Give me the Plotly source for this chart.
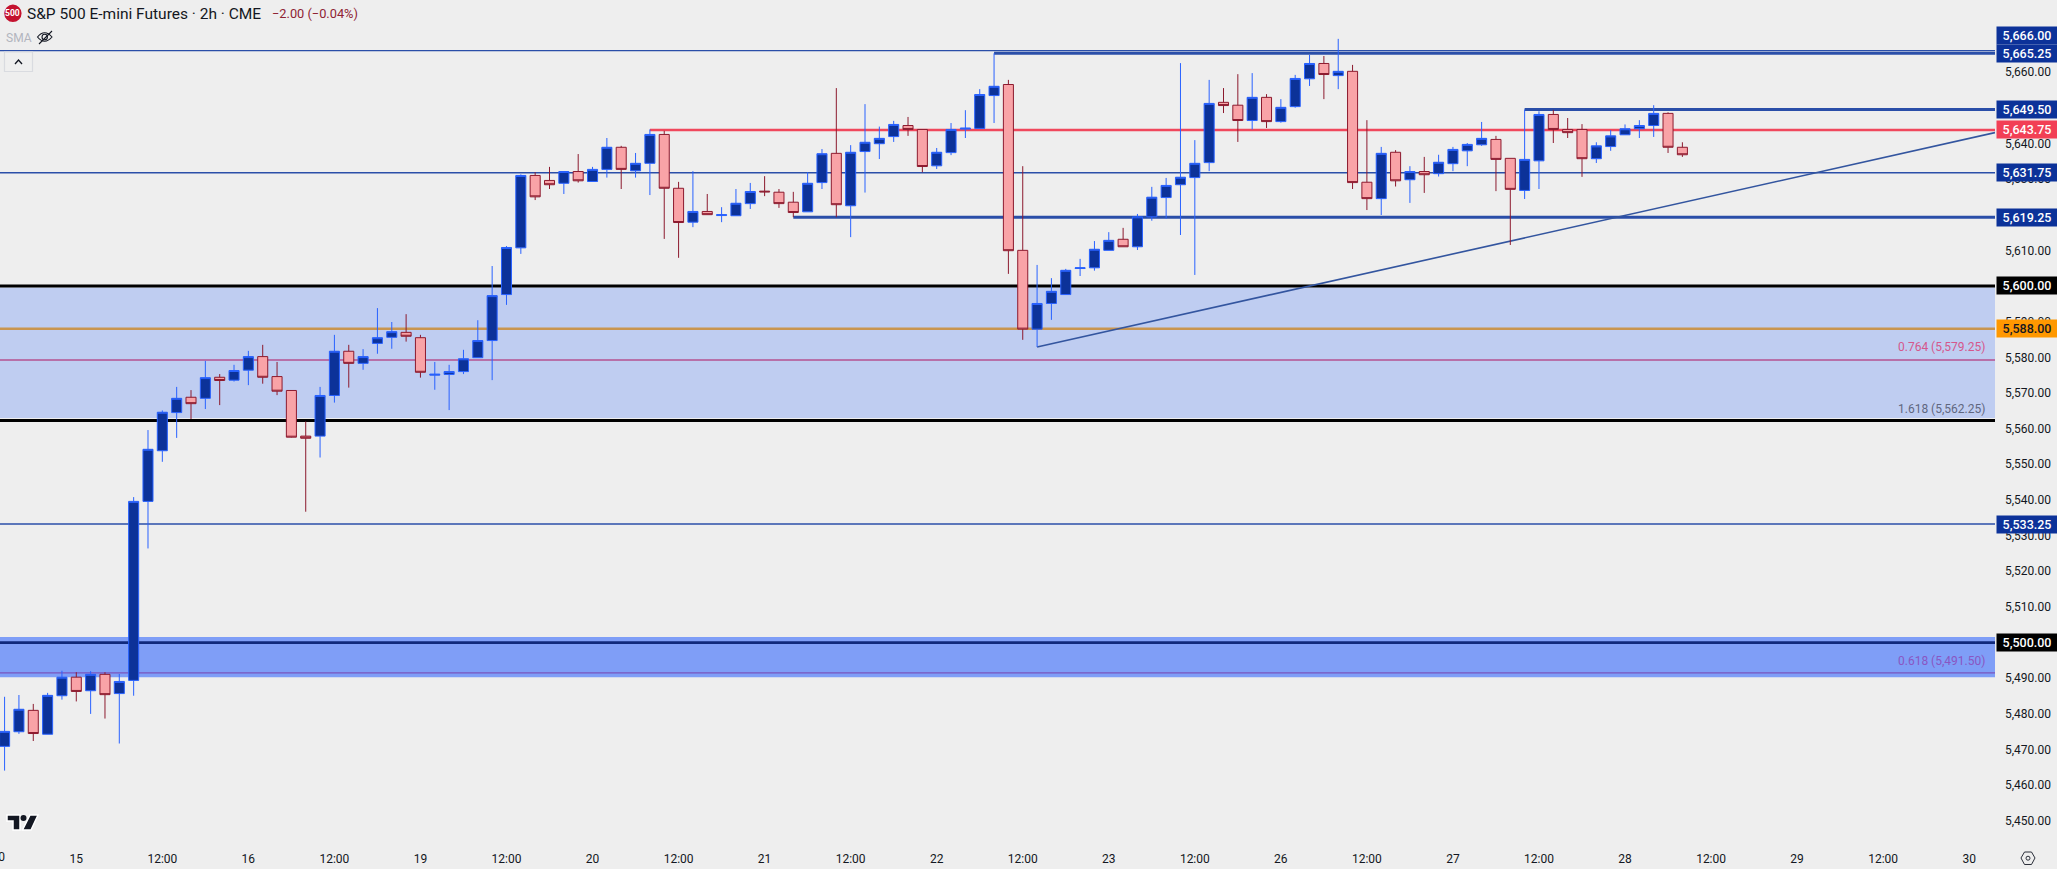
import plotly.graph_objects as go

W, H = 2057, 869
PLOT_W, PLOT_H = 1995, 843

bar_index = list(range(-5, 113))
opens = [5470.9,5475,5481,5474.3,5485.1,5490.3,5486.5,5491.1,5485.7,5489.4,5539.6,5553.8,5564.5,5568.8,5568.5,5574.4,5573.6,5576.4,5580.2,5574.6,
5570.7,5557.9,5557.9,5569.3,5581.7,5578.3,5583.9,5585.6,5587,5585.5,5575,5575.2,5576,5579.9,5584.7,5597.6,5610.7,5631,5629.6,5628.8,
5632.1,5629.3,5632.7,5638.9,5632.3,5634.4,5642.5,5627.4,5617.9,5620.9,5619.75,5619.7,5623.1,5626.6,5626.3,5623.5,5620.8,5629,5637.2,5622.5,
5637.7,5639.9,5641.9,5645,5643.9,5633.7,5637.4,5644,5644.2,5653.4,5656.5,5610,5587.9,5595.1,5597.6,5604.9,5605.1,5610,5613.1,5611,
5619.4,5624.8,5628.4,5630.4,5634.6,5651.5,5650.7,5646.4,5652.9,5646.1,5650.3,5658.1,5662.4,5659,5660.2,5629.1,5624.5,5637.5,5629.8,5632.1,
5631.5,5634.3,5637.9,5639.6,5641.1,5635.8,5626.8,5635.1,5648.1,5643.9,5643.9,5635.7,5639.1,5642.4,5644.1,5645,5648.4,5638.9]
highs = [5484.8,5485.3,5482.8,5485.9,5492.1,5491.7,5492,5491.7,5491.2,5540.8,5559.6,5565.1,5571.7,5570.8,5579,5575.3,5577.9,5581.8,5583.5,5578.7,
5570.7,5562,5571.7,5586.3,5583.5,5582.3,5593.8,5589.9,5592.1,5586.3,5578.7,5577.9,5582.1,5590.4,5605.6,5611.2,5631.3,5631.9,5633.4,5632.1,
5637,5633.4,5641.5,5639.3,5637.3,5643.9,5643.5,5629.2,5632.2,5625.8,5622.1,5627.2,5628.9,5630.8,5627.2,5626.4,5631.9,5638.4,5655.5,5639.5,
5651,5644.7,5646.3,5647.4,5643.9,5638.7,5645.7,5649.3,5655.2,5665.25,5657.8,5633.6,5605.9,5602.2,5604.8,5607.6,5612.6,5615.1,5616.3,5620.2,
5627.8,5630.3,5662.5,5640.9,5657.8,5655.5,5659.4,5659.7,5653.8,5652.4,5659.2,5664.8,5664.5,5669.3,5662,5646.5,5639,5638.1,5633.6,5636.2,
5636.8,5639,5640.1,5646,5642.1,5635.8,5649.5,5649,5649.4,5647.1,5645.4,5640.3,5643.7,5645.3,5646.5,5650.7,5648.7,5640.3]
lows = [5464.1,5474.4,5472.4,5474.3,5484,5483.5,5480,5478.7,5471.7,5485.1,5526.4,5550.7,5557.4,5562.7,5565.5,5566.6,5573.2,5572.2,5572.6,5569.4,
5557.5,5536.7,5551.9,5567.3,5571.5,5576.5,5581,5582.4,5584.4,5574.3,5570.9,5565.2,5575.3,5579.9,5573.6,5594.7,5609,5624.1,5627.2,5625.8,
5629,5629.3,5630.4,5627.2,5630.4,5625.5,5613.2,5607.9,5616.5,5620,5617.9,5619.7,5621.6,5625.2,5621.9,5619.3,5620.8,5627.2,5619.3,5613.7,
5626.2,5635.6,5640.4,5642.1,5631.9,5632.8,5636.7,5641.5,5644.2,5645.7,5603.4,5584.9,5582.9,5590.5,5597.6,5602.8,5604.3,5610,5611,5610.1,
5618.3,5618.9,5614.3,5603.1,5632.2,5648.5,5640.4,5643.9,5644.3,5645.8,5650,5656.1,5652.4,5655.2,5627.2,5621.3,5619.9,5627.9,5623.3,5626.1,
5630.7,5632.2,5633.6,5639.3,5626.6,5611.5,5624.4,5627.2,5640.1,5641.5,5630.6,5634.5,5637.9,5642.4,5641.5,5641.8,5637.3,5636.2]
closes = [5475.1,5481.3,5474.5,5485.2,5490.3,5486.3,5491.1,5485.4,5489.1,5539.6,5554.2,5564.6,5568.5,5567,5574.3,5573.5,5576.3,5580.2,5574.4,5570.5,
5557.6,5557.3,5569.3,5581.7,5578.3,5580.2,5585.5,5587.2,5585.9,5575.8,5575.25,5576,5579.6,5584.7,5597.3,5610.8,5631,5625,5628.4,5632.1,
5629.5,5632.7,5638.9,5632.7,5634.4,5642.5,5627.4,5617.8,5620.9,5620,5620,5623.2,5626.5,5626.4,5623.1,5620.6,5628.8,5637.1,5622.8,5637.5,
5640.3,5641.4,5645.3,5643.9,5633.5,5637.5,5643.9,5644.25,5653.7,5656,5609.9,5587.9,5595.1,5598.5,5604.4,5605.1,5610.3,5612.8,5611,5619.4,
5624.9,5628.2,5630.5,5634.4,5651.2,5650.6,5646.4,5652.9,5646.1,5650.1,5658.2,5662.4,5659.3,5660.2,5629,5624.5,5637.2,5629.5,5632.1,5631.2,
5634.7,5638.3,5639.7,5641.4,5635.5,5627.1,5635.5,5648.1,5643.9,5643,5635.7,5639.3,5642.1,5644.1,5645,5648.4,5638.9,5636.8]

day_ticks = [0, 6, 12, 18, 24, 30, 36, 42, 48, 54, 60, 66, 72, 78, 84, 90, 96, 102, 108, 114, 120, 126, 132]
day_labels = ["15","12:00","16","12:00","19","12:00","20","12:00","21","12:00","22","12:00","23","12:00","26","12:00","27","12:00","28","12:00","29","12:00","30"]

level_values = [5666.00, 5665.25, 5649.50, 5643.75, 5631.75, 5619.25, 5600.00, 5588.00, 5579.25, 5562.25, 5533.25, 5500.00, 5491.50]
level_starts = [None, 64, 101, 40, None, 50, None, None, None, None, None, None, None]
level_colors = ["#2a4ea8","#2a4ea8","#2a4ea8","#f0475c","#2a4ea8","#2a4ea8","#000000","#c9954f","#b5508f","#000000","#2a4ea8","#10297c","#7a55bd"]
level_widths = [1.3, 3, 3, 2.6, 1.3, 3, 3, 2.6, 1.3, 3, 1.3, 2.6, 1.3]

label_values = [5666.00, 5665.25, 5649.50, 5643.75, 5631.75, 5619.25, 5600.00, 5588.00, 5533.25, 5500.00]
label_shift = [15, 0, 0, 0, 0, 0, 0, 0, 0, 0]
label_bg = ["#0c3299","#0c3299","#0c3299","#f23f55","#0c3299","#0c3299","#000000","#ff9800","#0c3299","#000000"]
label_fg = ["#ffffff","#ffffff","#ffffff","#ffffff","#ffffff","#ffffff","#ffffff","#131722","#ffffff","#ffffff"]

band_lo = [5563.0, 5490.25]
band_hi = [5599.6, 5501.6]
band_colors = ["#bfcdf1", "#7f9ef7"]

trend_x = [67, 133.8]
trend_y = [5582.9, 5643.0]

fib_texts = ["0.764 (5,579.25)", "1.618 (5,562.25)", "0.618 (5,491.50)"]
fib_colors = ["#d5578c", "#5f6780", "#8a56c2"]

x_range = [-5.32, 133.8]
y_range = [5443.8, 5680.2]
FONT = "Roboto, sans-serif"


def px(x):
    return x / PLOT_W


def py(y):
    return 1 - y / PLOT_H


fig = go.Figure(go.Candlestick(
    x=bar_index, open=opens, high=highs, low=lows, close=closes,
    increasing=dict(line=dict(color="#2962ff", width=1), fillcolor="#0c3299"),
    decreasing=dict(line=dict(color="#8c1a2e", width=1), fillcolor="#f9a3a7"),
    whiskerwidth=0, hoverinfo="skip", showlegend=False,
))

shapes = []
for lo, hi, c in zip(band_lo, band_hi, band_colors):
    shapes.append(dict(type="rect", xref="x", yref="y", x0=x_range[0], x1=x_range[1], y0=lo, y1=hi,
                       fillcolor=c, line=dict(width=0), layer="below"))
for v, s, c, w in zip(level_values, level_starts, level_colors, level_widths):
    shapes.append(dict(type="line", xref="x", yref="y", x0=x_range[0] if s is None else s, x1=x_range[1],
                       y0=v, y1=v, line=dict(color=c, width=w), layer="below"))
shapes.append(dict(type="line", xref="x", yref="y", x0=trend_x[0], x1=trend_x[1], y0=trend_y[0], y1=trend_y[1],
                   line=dict(color="#33559f", width=1.6), layer="below"))


def ppath(points, close=False):
    s = "M " + " L ".join(f"{px(a):.5f},{py(b):.5f}" for a, b in points)
    return s + (" Z" if close else "")


shapes.append(dict(type="circle", xref="paper", yref="paper", x0=px(4.2), x1=px(21.6), y0=py(22), y1=py(4.6),
                   fillcolor="#c4122f", line=dict(width=0), layer="above"))
shapes.append(dict(type="path", xref="paper", yref="paper", layer="above", line=dict(color="#131722", width=1.1),
                   path=f"M {px(37.5):.5f},{py(37):.5f} Q {px(44.5):.5f},{py(28.5):.5f} {px(52):.5f},{py(37):.5f} Q {px(44.5):.5f},{py(45.5):.5f} {px(37.5):.5f},{py(37):.5f} Z"))
shapes.append(dict(type="circle", xref="paper", yref="paper", x0=px(42), x1=px(47.4), y0=py(39.8), y1=py(34.2),
                   line=dict(color="#131722", width=1.1), layer="above"))
shapes.append(dict(type="line", xref="paper", yref="paper", x0=px(39), x1=px(52), y0=py(44), y1=py(31),
                   line=dict(color="#131722", width=1.1), layer="above"))
shapes.append(dict(type="rect", xref="paper", yref="paper", x0=px(4.5), x1=px(32.5), y0=py(71.5), y1=py(52),
                   line=dict(color="#d9dbe0", width=1.2), fillcolor="#efefef", layer="above"))
shapes.append(dict(type="path", xref="paper", yref="paper", layer="above", line=dict(color="#131722", width=1.3),
                   path=ppath([(15, 64), (18.5, 60), (22, 64)])))
shapes.append(dict(type="path", xref="paper", yref="paper", layer="above", fillcolor="#131722",
                   line=dict(color="#ffffff", width=1.5),
                   path=ppath([(7, 815), (20, 815), (20, 830), (13, 830), (13, 821), (7, 821)], True)))
shapes.append(dict(type="path", xref="paper", yref="paper", layer="above", fillcolor="#131722",
                   line=dict(color="#ffffff", width=1.5),
                   path=ppath([(30, 815), (38, 815), (31, 830), (22.5, 830)], True)))
shapes.append(dict(type="circle", xref="paper", yref="paper", x0=px(20.5), x1=px(26.5), y0=py(821), y1=py(815),
                   fillcolor="#131722", line=dict(width=0), layer="above"))
shapes.append(dict(type="path", xref="paper", yref="paper", layer="above", line=dict(color="#2a2e39", width=1),
                   path=ppath([(2021, 858), (2024.5, 852), (2031.5, 852), (2035, 858), (2031.5, 864.5), (2024.5, 864.5)], True)))
shapes.append(dict(type="circle", xref="paper", yref="paper", x0=px(2026), x1=px(2030), y0=py(860.2), y1=py(856.2),
                   line=dict(color="#2a2e39", width=1), layer="above"))

ann = []
for v, sh, bg, fg in zip(label_values, label_shift, label_bg, label_fg):
    ann.append(dict(xref="paper", yref="y", x=1, y=v, xanchor="left", yanchor="middle", xshift=1, yshift=sh,
                    text=f"{v:,.2f}", showarrow=False, width=60, height=17, bgcolor=bg, borderpad=0,
                    align="center", font=dict(family=FONT, size=12.5, color=fg, weight=500)))
fib_y_px = [346.7, 409, 660.7]
for t, yp, c in zip(fib_texts, fib_y_px, fib_colors):
    ann.append(dict(xref="paper", yref="paper", x=px(1987), y=py(yp), xanchor="right", yanchor="middle",
                    text=t, showarrow=False, font=dict(family=FONT, size=12, color=c)))


def header(text, x, y, size, color, anchor="left", weight=None):
    f = dict(family=FONT, size=size, color=color)
    if weight:
        f["weight"] = weight
    ann.append(dict(xref="paper", yref="paper", x=px(x), y=py(y), xanchor=anchor, yanchor="middle",
                    text=text, showarrow=False, font=f))


header("S&amp;P 500 E-mini Futures · 2h · CME", 25, 14, 15.5, "#131722")
header("−2.00 (−0.04%)", 270, 14, 12.8, "#8e2333")
header("500", 12.9, 13.4, 8.5, "#ffffff", "center", 700)
header("SMA", 3.5, 38, 12, "#b2b5be")
header("12:00", -10, 857.5, 12, "#131722", "center")

fig.update_layout(
    width=W, height=H, autosize=False,
    margin=dict(l=0, r=W - PLOT_W, t=0, b=H - PLOT_H),
    paper_bgcolor="#eeeeee", plot_bgcolor="#eeeeee",
    showlegend=False, hovermode=False, dragmode=False,
    boxgap=0.3, boxgroupgap=0,
    shapes=shapes, annotations=ann,
    xaxis=dict(range=x_range, rangeslider=dict(visible=False), showgrid=False, zeroline=False, showline=False,
               tickmode="array", tickvals=day_ticks, ticktext=day_labels, ticks="", ticklabelstandoff=7,
               tickfont=dict(family=FONT, size=12, color="#131722")),
    yaxis=dict(range=y_range, side="right", showgrid=False, zeroline=False, showline=False,
               tick0=5450, dtick=10, tickformat=",.2f", ticks="", ticklabelstandoff=9,
               tickfont=dict(family=FONT, size=12, color="#131722")),
)

fig.write_html("out.html", config=dict(displayModeBar=False, staticPlot=True),
               post_script="document.body.style.margin='0';document.body.style.background='#eeeeee';document.body.style.overflow='hidden';")
